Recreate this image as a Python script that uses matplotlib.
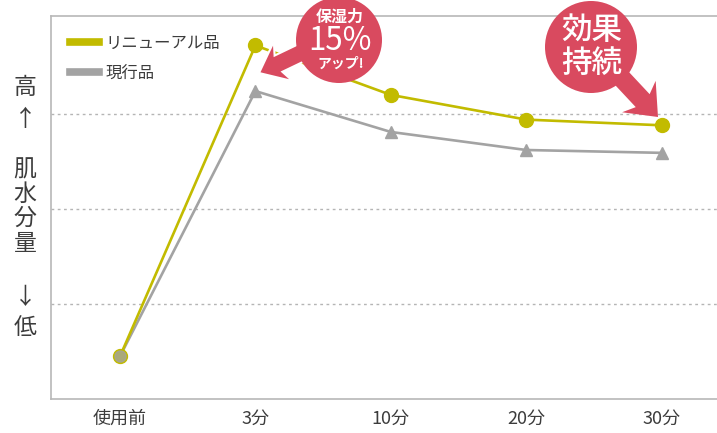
import matplotlib.pyplot as plt
from matplotlib.patches import Circle, FancyArrow

plt.rcParams['font.family'] = ['Noto Sans CJK JP', 'DejaVu Sans']

categories = ['使用前', '3分', '10分', '20分', '30分']
renewal = [0.45, 3.72, 3.20, 2.94, 2.88]
current = [0.45, 3.24, 2.81, 2.62, 2.59]
series_names = ['リニューアル品', '現行品']
ylabel_chars = ['高', '↑', '肌', '水', '分', '量', '↓', '低']

YELLOW = '#c2bb00'
GREY = '#a3a3a3'
RED = '#d94a5f'
TEXT = '#3c3c3c'

fig = plt.figure(figsize=(7.17, 4.33), dpi=100)
ax = fig.add_axes([51 / 717, 34 / 433, 1 - 51 / 717, 383 / 433])

x = list(range(len(categories)))
ax.plot(x, current, color=GREY, lw=1.9, marker='^', ms=9, markevery=slice(1, None), zorder=3)
ax.plot(x, renewal, color=YELLOW, lw=1.9, marker='o', ms=10, zorder=4)
ax.plot(x[:1], current[:1], color=GREY, marker='o', ms=8, alpha=0.75, ls='none', zorder=5)

ax.set_xlim(-0.51, 4.41)
ax.set_ylim(0, 4.03)
ax.set_xticks(x)
ax.set_xticklabels(categories, fontsize=13, color=TEXT)
ax.set_yticks([])
ax.tick_params(axis='x', length=0, pad=8)
for y in [1, 2, 3]:
    ax.axhline(y, color='#b5b5b5', lw=1, ls=(0, (2, 2.5)), zorder=1)
ax.spines['right'].set_visible(False)
for s in ['left', 'bottom', 'top']:
    ax.spines[s].set_color('#b8b8b8')
    ax.spines[s].set_linewidth(1.2)

# legend
leg_handles = [plt.Line2D([], [], color=YELLOW, lw=5.5), plt.Line2D([], [], color=GREY, lw=5.5)]
leg = ax.legend(leg_handles, series_names, loc='upper left', bbox_to_anchor=(0.0, 1.0),
                frameon=False, fontsize=11.8, handlelength=1.8, handletextpad=0.35,
                labelspacing=0.8, borderaxespad=0.75)
for t in leg.get_texts():
    t.set_color(TEXT)

# vertical y label
ys = [88, 120, 170, 194, 218, 243, 298, 327]
for ch, yy in zip(ylabel_chars, ys):
    fig.text(25 / 717, 1 - yy / 433, ch, ha='center', va='center', fontsize=16.5, color=TEXT)

# callouts in pixel coordinates
ov = fig.add_axes([0, 0, 1, 1], zorder=10)
ov.set_xlim(0, 717)
ov.set_ylim(433, 0)
ov.axis('off')

ov.add_patch(FancyArrow(330, 39, 259 - 330, 73 - 39, width=18, head_width=44, head_length=27,
                        overhang=0.2, length_includes_head=True, color=RED, ec='white', lw=1.5))
ov.add_patch(Circle((339, 40), 43, color=RED, ec='none'))
ov.text(340, 17, '保湿力', ha='center', va='center', color='white', fontsize=11.5, fontweight='bold')
ov.text(340, 41, '15%', ha='center', va='center', color='white', fontsize=22.5)
ov.text(341, 64, 'アップ!', ha='center', va='center', color='white', fontsize=10, fontweight='bold')

ov.add_patch(Circle((591, 47), 46, color=RED, ec='none'))
ov.add_patch(FancyArrow(600, 55, 658 - 600, 117 - 55, width=19, head_width=46, head_length=28,
                        overhang=0.2, length_includes_head=True, color=RED, ec='none'))
ov.text(592, 31, '効果', ha='center', va='center', color='white', fontsize=22, fontweight='medium')
ov.text(592, 63, '持続', ha='center', va='center', color='white', fontsize=22, fontweight='medium')

fig.savefig('out.png', dpi=100)
